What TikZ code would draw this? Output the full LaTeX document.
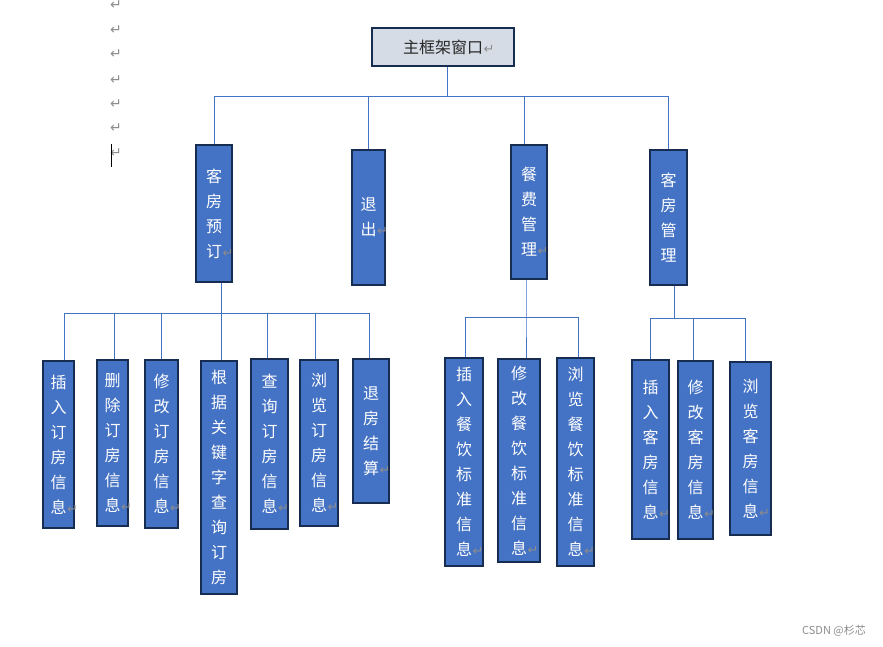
\documentclass[tikz,border=0pt]{standalone}
\usepackage{fontspec}
\setmainfont{Noto Sans CJK SC}
\newfontfamily\dejavu{DejaVu Sans}
\definecolor{boxfill}{HTML}{4472C4}
\definecolor{boxline}{HTML}{172C51}
\definecolor{rootfill}{HTML}{D6DCE5}
\definecolor{linkc}{HTML}{4472C4}
\definecolor{markc}{HTML}{8C8C8C}
\newcommand{\pmark}{\rlap{\hspace{0.5pt}{\dejavu\fontsize{13}{13}\selectfont\color{markc}↵}}}
\begin{document}
\begin{tikzpicture}[x=1pt,y=-1pt,
  vbox/.style={draw=boxline, fill=boxfill, line width=2.5pt, inner sep=0pt, text=white, align=center, font=\fontsize{16}{25}\selectfont},
  rootbox/.style={draw=boxline, fill=rootfill, line width=2pt, inner sep=0pt, font=\fontsize{16}{20}\selectfont, text=black!85},
  sz/.style 2 args={minimum width=#1pt, minimum height=#2pt},
  link/.style={draw=linkc, line width=1pt},
  pm/.style={font=\dejavu\fontsize{14}{14}\selectfont, text=markc, inner sep=0pt}]
\useasboundingbox (0,0) rectangle (883,646);

% left paragraph marks and cursor
\foreach \yy [count=\i] in {5,30,54,80,104,128,153}
  \node[pm] (lm\i) at (116,\yy) {↵};
\draw[black, line width=1pt] (111,144) -- (111,167);

% root
\node[rootbox, sz={142}{38}] (root) at (443,47) {主框架窗口\pmark};

% level 1
\node[vbox, sz={36}{137}] (kfyd) at (214,213.5) {客\\房\\预\\订\pmark};
\node[vbox, sz={33}{135}] (tc) at (368.5,217.5) {退\\出\pmark};
\node[vbox, sz={36}{134}] (cfgl) at (529,212) {餐\\费\\管\\理\pmark};
\node[vbox, sz={37}{135}] (kfgl) at (668.5,217.5) {客\\房\\管\\理};

% level 2 under 客房预订
\node[vbox, sz={31}{167}] (a1) at (58.5,444.5) {插\\入\\订\\房\\信\\息\pmark};
\node[vbox, sz={31}{166}] (a2) at (112.5,443) {删\\除\\订\\房\\信\\息\pmark};
\node[vbox, sz={33}{168}] (a3) at (161.5,444) {修\\改\\订\\房\\信\\息\pmark};
\node[vbox, sz={36}{233}] (a4) at (219,477.5) {根\\据\\关\\键\\字\\查\\询\\订\\房};
\node[vbox, sz={37}{170}] (a5) at (269.5,444) {查\\询\\订\\房\\信\\息\pmark};
\node[vbox, sz={38}{166}] (a6) at (319,443) {浏\\览\\订\\房\\信\\息\pmark};
\node[vbox, sz={36}{144}] (a7) at (371,431) {退\\房\\结\\算\pmark};

% level 2 under 餐费管理
\node[vbox, sz={38}{208}] (b1) at (464,462) {插\\入\\餐\\饮\\标\\准\\信\\息\pmark};
\node[vbox, sz={42}{203}] (b2) at (519,460.5) {修\\改\\餐\\饮\\标\\准\\信\\息\pmark};
\node[vbox, sz={37}{208}] (b3) at (575.5,462) {浏\\览\\餐\\饮\\标\\准\\信\\息\pmark};

% level 2 under 客房管理
\node[vbox, sz={37}{179}] (c1) at (650.5,449.5) {插\\入\\客\\房\\信\\息\pmark};
\node[vbox, sz={35}{178}] (c2) at (695.5,450) {修\\改\\客\\房\\信\\息\pmark};
\node[vbox, sz={41}{173}] (c3) at (750.5,448.5) {浏\\览\\客\\房\\信\\息\pmark};

% connectors level 1
\coordinate (bus0) at (447,96);
\draw[link] ([xshift=4pt]root.south) -- (bus0);
\draw[link] (bus0) -| (kfyd.north);
\draw[link] (bus0) -| (tc.north);
\draw[link] (bus0) -| ([xshift=-5pt]cfgl.north);
\draw[link] (bus0) -| (kfgl.north);

% connectors group A
\coordinate (busA) at (221,313);
\draw[link] ([xshift=7pt]kfyd.south) -- (busA);
\draw[link] (busA) -| ([xshift=5.5pt]a1.north);
\draw[link] (busA) -| ([xshift=1.5pt]a2.north);
\draw[link] (busA) -| ([xshift=-0.5pt]a3.north);
\draw[link] (busA) -| ([xshift=2.5pt]a4.north);
\draw[link] (busA) -| ([xshift=-2.5pt]a5.north);
\draw[link] (busA) -| ([xshift=-4pt]a6.north);
\draw[link] (busA) -| ([xshift=-2pt]a7.north);

% connectors group B
\coordinate (busB) at (526,317);
\draw[link] ([xshift=-3pt]cfgl.south) -- (busB) -- ([xshift=7pt]b2.north);
\draw[link] (busB) -| ([xshift=1pt]b1.north);
\draw[link] (busB) -| ([xshift=2.5pt]b3.north);

% connectors group C
\coordinate (busC) at (674,318);
\draw[link] ([xshift=5.5pt]kfgl.south) -- (busC);
\draw[link] (busC) -| ([xshift=-0.5pt]c1.north);
\draw[link] (busC) -| ([xshift=-2.5pt]c2.north);
\draw[link] (busC) -| ([xshift=-5.5pt]c3.north);

% watermark
\node[font=\fontsize{11}{11}\selectfont, text=black!45, inner sep=0pt] (wm) at (834,631) {CSDN @杉芯};
\end{tikzpicture}
\end{document}
